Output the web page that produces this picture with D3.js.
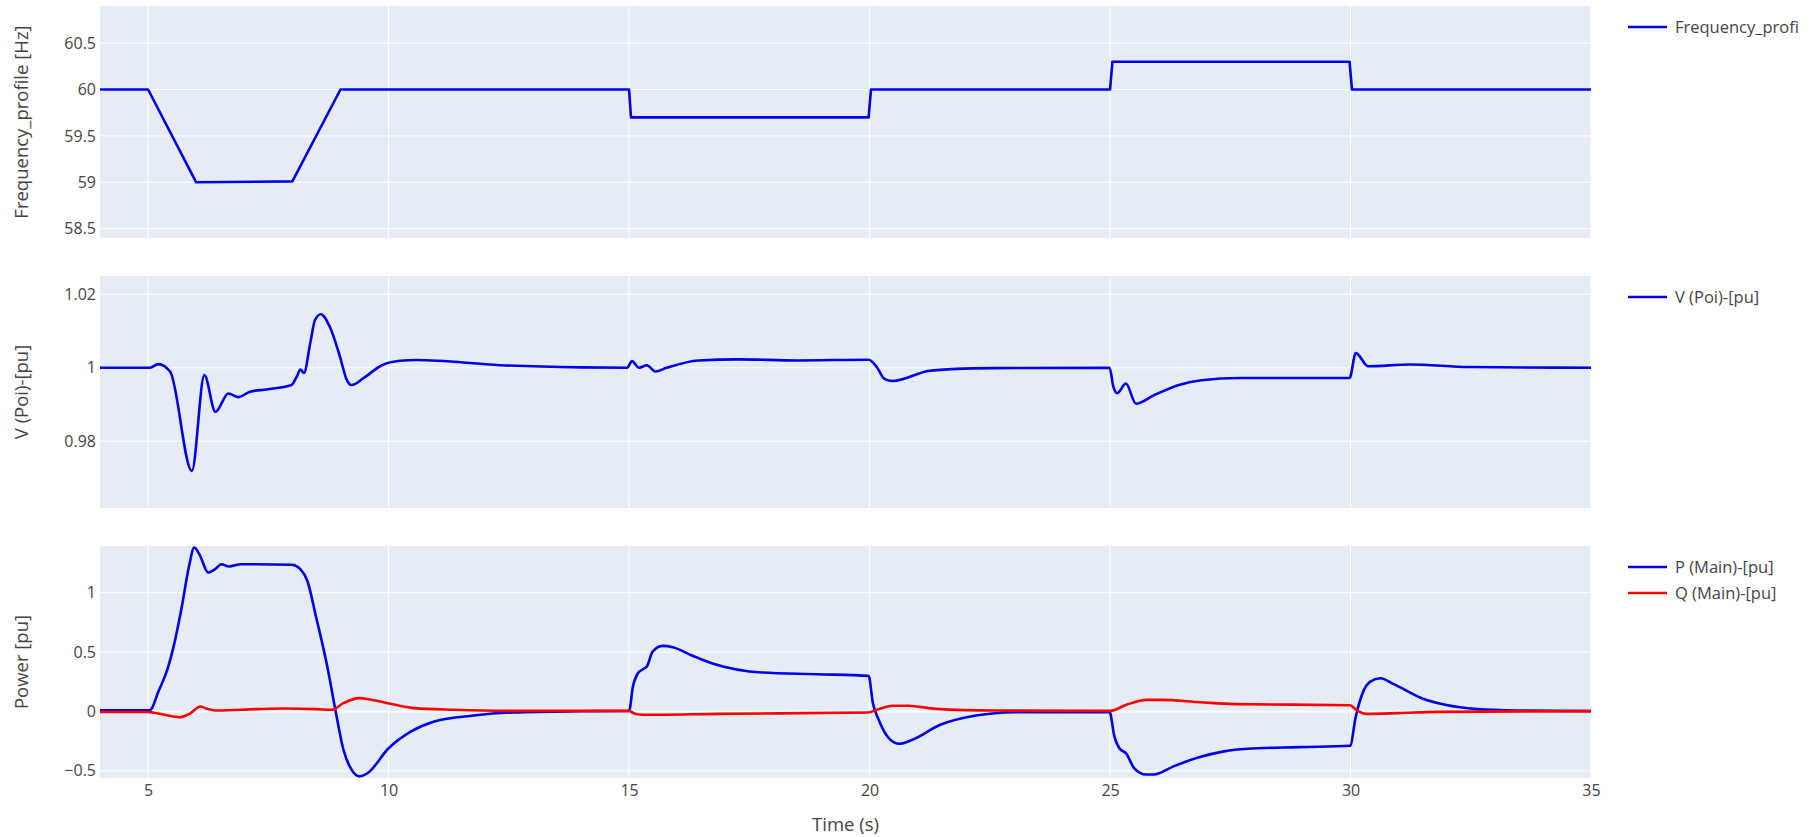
<!DOCTYPE html>
<meta charset="utf-8">
<style>
    body { margin: 0; background: #fff; }
    .tick text, .ytitle, .xtitle, .legend text {
        font-family: "Open Sans", "Noto Sans", sans-serif;
        fill: #444;
    }
    .tick text { font-size: 16px; }
    .ytitle, .xtitle { font-size: 18.5px; }
    .legend text { font-size: 16.5px; }
    .grid line { stroke: #fff; stroke-width: 1; }
    .zeroline { stroke: #fff; stroke-width: 2; }
    .trace { fill: none; stroke-width: 2.6; stroke-linejoin: round; }
</style>
<body>
<script src="https://cdn.jsdelivr.net/npm/d3@7"></script>
<script>
// x axis
var xDomain = [4, 35];
var xTicks = [5, 10, 15, 20, 25, 30, 35];

// Frequency_profile [Hz]
var freqProfile = [
    [4, 60], [5, 60], [6, 59.0], [8, 59.01], [9, 60], [15, 60], [15.04, 59.7],
    [19.98, 59.7], [20.03, 60], [25, 60], [25.05, 60.3], [29.98, 60.3], [30.03, 60], [35, 60]
];

// V (Poi)-[pu]
var vPoi = [
    [4, 1.0], [5.04, 1.0], [5.21, 1.001], [5.46, 0.9989], [5.91, 0.9719], [6.17, 0.998],
    [6.40, 0.988], [6.67, 0.993], [6.88, 0.992], [7.12, 0.9935], [7.47, 0.9941], [7.98, 0.9953],
    [8.09, 0.9976], [8.17, 0.9995], [8.24, 0.9986], [8.37, 1.0066], [8.47, 1.013], [8.59, 1.0146],
    [8.78, 1.0111], [8.99, 1.003], [9.13, 0.9967], [9.23, 0.9953], [9.47, 0.9971], [9.86, 1.0007],
    [10.24, 1.0019], [10.58, 1.0021], [12.32, 1.0007], [14.0, 1.0001], [14.96, 1.0],
    [15.06, 1.0018], [15.21, 1.0], [15.37, 1.0007], [15.55, 0.999], [15.78, 1.0], [16.44, 1.002],
    [17.27, 1.0023], [18.5, 1.002], [19.98, 1.0022], [20.15, 1.0002], [20.31, 0.997], [20.48, 0.9964],
    [21.22, 0.9991], [21.8, 0.9997], [22.6, 0.9999], [24.99, 1.0], [25.07, 0.9948], [25.15, 0.9931],
    [25.33, 0.9957], [25.54, 0.9902], [25.91, 0.9925], [26.45, 0.9954], [26.9, 0.9966], [27.7, 0.9972],
    [29.98, 0.9972], [30.11, 1.004], [30.37, 1.0004], [31.23, 1.0009], [32.47, 1.0002], [35, 1.0]
];

// P (Main)-[pu]
var pMain = [
    [4, 0.01], [5.04, 0.01], [5.08, 0.028], [5.2, 0.154], [5.41, 0.364], [5.53, 0.546], [5.7, 0.88],
    [5.85, 1.22], [5.96, 1.38], [6.07, 1.32], [6.25, 1.17], [6.4, 1.2], [6.52, 1.24], [6.68, 1.22],
    [6.93, 1.24], [7.99, 1.235], [8.16, 1.2], [8.31, 1.1], [8.49, 0.8], [8.74, 0.35], [8.9, 0.0],
    [9.06, -0.32], [9.23, -0.49], [9.39, -0.546], [9.56, -0.52], [10.0, -0.31], [10.46, -0.17],
    [10.95, -0.084], [11.77, -0.034], [12.6, -0.008], [14.0, 0.002], [15.0, 0.005], [15.08, 0.21],
    [15.18, 0.32], [15.29, 0.356], [15.37, 0.378], [15.49, 0.504], [15.7, 0.552], [15.91, 0.54],
    [16.28, 0.476], [16.77, 0.40], [17.76, 0.328], [18.91, 0.314], [19.98, 0.30], [20.07, 0.07],
    [20.19, -0.07], [20.4, -0.224], [20.62, -0.272], [20.89, -0.238], [21.47, -0.112], [22.21, -0.034],
    [23.03, -0.006], [24.99, -0.003], [25.09, -0.21], [25.19, -0.308], [25.34, -0.356], [25.5, -0.476],
    [25.75, -0.53], [25.91, -0.53], [26.33, -0.46], [26.85, -0.386], [27.37, -0.336], [27.86, -0.314],
    [28.93, -0.30], [29.99, -0.289], [30.11, -0.042], [30.25, 0.154], [30.41, 0.252], [30.62, 0.28],
    [30.9, 0.23], [31.48, 0.112], [31.97, 0.056], [32.63, 0.02], [33.45, 0.008], [35, 0.003]
];

// Q (Main)-[pu]
var qMain = [
    [4, -0.004], [5.0, -0.004], [5.12, -0.01], [5.66, -0.048], [5.86, -0.02], [6.09, 0.042],
    [6.19, 0.028], [6.44, 0.008], [7.26, 0.02], [7.83, 0.025], [8.49, 0.02], [8.82, 0.014],
    [9.06, 0.07], [9.39, 0.112], [9.64, 0.098], [10.13, 0.056], [10.54, 0.028], [11.36, 0.014],
    [12.6, 0.005], [15.0, 0.005], [15.12, -0.02], [15.29, -0.028], [16.85, -0.02], [19.98, -0.008],
    [20.15, 0.014], [20.48, 0.048], [20.8, 0.048], [21.38, 0.022], [22.6, 0.008], [25.0, 0.005],
    [25.34, 0.056], [25.75, 0.098], [26.08, 0.098], [26.87, 0.078], [27.6, 0.062], [29.99, 0.053],
    [30.12, 0.014], [30.33, -0.02], [30.99, -0.014], [31.8, -0.003], [35, 0.003]
];

var panels = [
    { title: "Frequency_profile [Hz]", domain: [58.4, 60.9], ticks: [58.5, 59, 59.5, 60, 60.5],
      top: 6, bottom: 238, series: [{ name: "Frequency_profi", data: freqProfile, color: "#0000ea" }] },
    { title: "V (Poi)-[pu]", domain: [0.9618, 1.025], ticks: [0.98, 1, 1.02],
      top: 276, bottom: 508, series: [{ name: "V (Poi)-[pu]", data: vPoi, color: "#0000ea" }] },
    { title: "Power [pu]", domain: [-0.56, 1.393], ticks: [-0.5, 0, 0.5, 1],
      top: 546, bottom: 778, zero: true, series: [
        { name: "P (Main)-[pu]", data: pMain, color: "#0000ea" },
        { name: "Q (Main)-[pu]", data: qMain, color: "#ff0000" }] }
];

var width = 1820, height = 837;
var left = 100, right = 1591;

var svg = d3.select("body").append("svg")
    .attr("width", width)
    .attr("height", height);

var x = d3.scaleLinear().domain(xDomain).range([left, right]);

panels.forEach(function (p, i) {
    var y = d3.scaleLinear().domain(p.domain).range([p.bottom, p.top]);
    var g = svg.append("g");

    g.append("rect")
        .attr("x", left).attr("y", p.top)
        .attr("width", right - left).attr("height", p.bottom - p.top)
        .attr("fill", "#e5ecf6");

    // grid
    var grid = g.append("g").attr("class", "grid");
    grid.selectAll(".gx").data(xTicks).enter().append("line")
        .attr("x1", d => x(d)).attr("x2", d => x(d))
        .attr("y1", p.top).attr("y2", p.bottom);
    grid.selectAll(".gy").data(p.ticks.filter(t => !(p.zero && t === 0))).enter().append("line")
        .attr("x1", left).attr("x2", right)
        .attr("y1", d => y(d)).attr("y2", d => y(d));
    if (p.zero) {
        g.append("line").attr("class", "zeroline")
            .attr("x1", left).attr("x2", right)
            .attr("y1", y(0)).attr("y2", y(0));
    }

    // y axis labels
    var yAxis = g.append("g")
        .attr("transform", "translate(" + (left - 1) + ",0)")
        .call(d3.axisLeft(y).tickValues(p.ticks).tickSize(0).tickPadding(3)
            .tickFormat(d => d < 0 ? "\u2212" + Math.abs(d) : String(d)));
    yAxis.select(".domain").remove();

    g.append("text")
        .attr("class", "ytitle")
        .attr("transform", "translate(22," + ((p.top + p.bottom) / 2) + ") rotate(-90)")
        .attr("text-anchor", "middle")
        .attr("dy", "0.35em")
        .text(p.title);

    // traces
    var line = d3.line()
        .x(d => x(d[0]))
        .y(d => y(d[1]))
        .curve(i === 0 ? d3.curveLinear : d3.curveMonotoneX);

    g.selectAll(".trace").data(p.series).enter().append("path")
        .attr("class", "trace")
        .attr("stroke", d => d.color)
        .attr("d", d => line(d.data));

    // legend
    var leg = svg.append("g").attr("class", "legend")
        .attr("transform", "translate(1628," + (p.top + 21) + ")");
    var item = leg.selectAll("g").data(p.series).enter().append("g")
        .attr("transform", (d, k) => "translate(0," + (k * 26) + ")");
    item.append("line")
        .attr("x1", 0).attr("x2", 39)
        .attr("stroke", d => d.color).attr("stroke-width", 2.5);
    item.append("text")
        .attr("x", 47).attr("dy", "0.35em")
        .text(d => d.name);

    // x axis labels only on bottom panel
    if (i === panels.length - 1) {
        var xAxis = svg.append("g")
            .attr("transform", "translate(0," + p.bottom + ")")
            .call(d3.axisBottom(x).tickValues(xTicks).tickSize(0).tickPadding(7));
        xAxis.select(".domain").remove();

        svg.append("text")
            .attr("class", "xtitle")
            .attr("x", (left + right) / 2)
            .attr("y", 831)
            .attr("text-anchor", "middle")
            .text("Time (s)");
    }
});
</script>
</body>
